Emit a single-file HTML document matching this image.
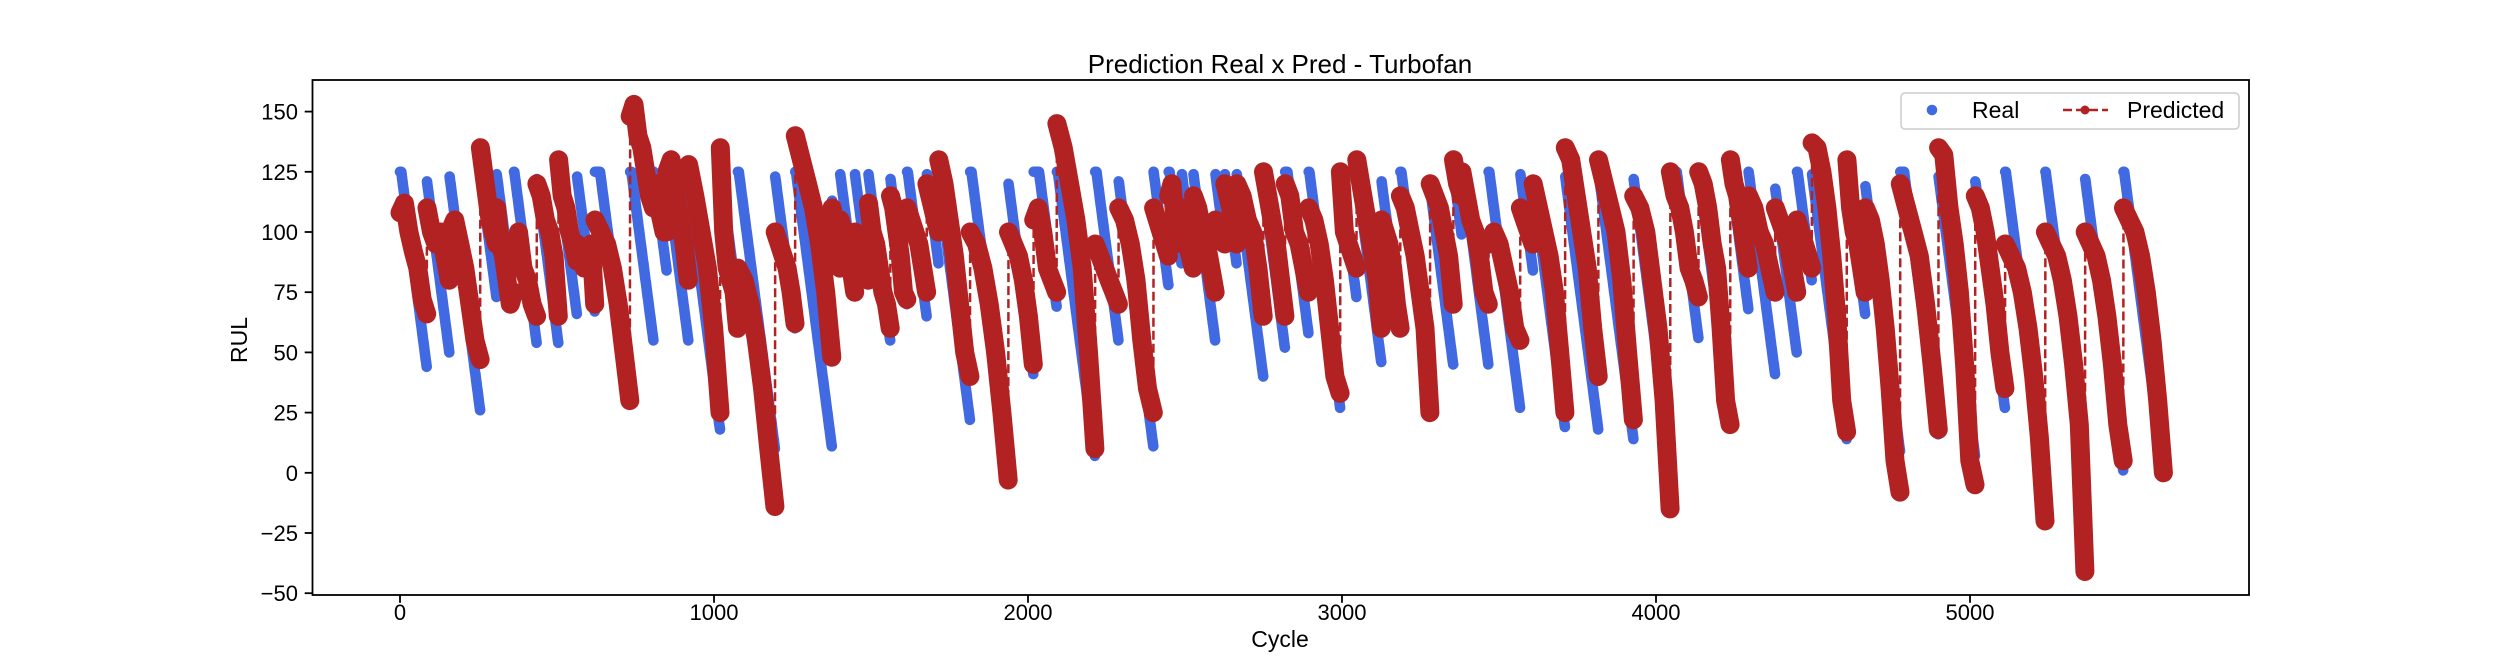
<!DOCTYPE html>
<html><head><meta charset="utf-8"><style>
html,body{margin:0;padding:0;background:#fff;}
svg{display:block;font-family:"Liberation Sans","DejaVu Sans",sans-serif;}
</style></head><body>
<svg id="chart" width="2500" height="670" viewBox="0 0 2500 670" xmlns="http://www.w3.org/2000/svg">
<rect x="0" y="0" width="2500" height="670" fill="#fff"/>
<text x="1280" y="73" text-anchor="middle" font-size="26" fill="#000">Prediction Real x Pred - Turbofan</text>
<g id="plot"></g>
<rect x="312.5" y="80" width="1936.5" height="515" fill="none" stroke="#000" stroke-width="1.8"/>
<g id="ticks"></g>
<text x="1280" y="647" text-anchor="middle" font-size="23">Cycle</text>
<text x="0" y="0" transform="translate(247,340) rotate(-90)" text-anchor="middle" font-size="23">RUL</text>
<g>
<rect x="1901" y="93" width="338" height="36" rx="4" fill="#fff" fill-opacity="0.8" stroke="#ccc" stroke-width="1.5"/>
<circle cx="1932" cy="110" r="5.3" fill="#4169e1"/>
<text x="1972" y="118" font-size="23">Real</text>
<line x1="2063" y1="110" x2="2108" y2="110" stroke="#b22222" stroke-width="2.5" stroke-dasharray="9,4"/>
<circle cx="2085" cy="110" r="4.5" fill="#b22222"/>
<text x="2127" y="118" font-size="23">Predicted</text>
</g>
</svg>
<script>
const xTicks = [0, 1000, 2000, 3000, 4000, 5000];
const yTicks = [-50, -25, 0, 25, 50, 75, 100, 125, 150];
const engineEnd = [85,157,255,307,362,435,504,563,620,732,807,849,918,1019,1075,1194,1258,1375,1401,1448,1491,1561,1614,1677,1715,1815,1937,2017,2091,2213,2288,2399,2447,2489,2526,2596,2626,2664,2749,2818,2893,2994,3046,3125,3185,3280,3354,3381,3466,3567,3608,3710,3816,3928,4045,4135,4236,4294,4379,4448,4496,4607,4666,4777,4899,5016,5111,5239,5366,5488,5616];
const engineEndRul = [44,50,26,73,70,54,54,66,67,30,55,84,55,18,70,10,60,11,88,78,82,55,70,65,87,22,8,41,69,7,55,11,78,87,88,55,95,87,40,52,58,27,73,46,62,34,45,99,45,27,84,19,18,14,6,56,25,68,41,50,80,14,66,9,16,7,27,0,0,1,0];
const predicted = [
[108,112,100,92,85,72,66],[110,100,95,100,90,80],[100,105,95,85,70,55,47],[135,125,115,105,100,95],
[110,95,90,80,70,75],[90,100,85,80,70,65],[120,115,105,100,90,65],[130,115,110,100,95,88],
[95,90,85,90,95,70],[105,100,95,85,70,50,30],[148,153,140,135,125,115,110],[115,120,110,105,100,100],
[125,130,115,105,95,80],[128,115,100,85,60,25],[135,100,85,80,75,60],[85,80,70,55,35,10,-14],
[100,95,90,85,75,62],[140,130,120,110,95,75,48],[110,105,95,90,85],[105,100,95,85,75],
[100,95,90,85,80],[112,100,95,85,75,70,60],[115,110,100,90,75,72],[110,105,100,95,85,75],
[120,115,110,105,100],[130,120,105,90,70,50,40],[100,95,85,70,50,25,-3],[100,95,90,80,65,45],
[105,110,100,85,80,75],[145,135,120,105,85,50,10],[95,90,85,80,75,70],[110,105,95,80,55,35,25],
[110,105,100,95,90],[115,120,105,100,95],[110,100,95,90,85],[115,110,100,95,85,75],
[105,100,100,95],[120,115,110,100,95],[120,115,105,100,85,65],[125,115,105,95,80,65],
[120,115,100,95,85,75],[110,105,95,80,60,40,33],[125,100,95,90,85],[130,120,110,100,90,80,60],
[105,100,95,85,70,60],[115,110,100,90,75,60,25],[120,115,110,100,90,70],[130,120,115],
[125,115,105,100,90,75,70],[95,100,95,85,75,60,55],[110,105,100,95],[120,110,100,90,75,50,25],
[135,130,115,100,85,60,40],[130,120,110,100,80,50,22],[115,110,100,80,60,30,-15],[125,115,110,100,85,80,73],
[125,120,110,95,85,60,30,20],[130,120,115,105,95,85],[115,110,100,95,85,75],[110,105,100,95,85,75],
[105,100,95,90,85],[137,135,125,110,90,65,30,17],[130,110,100,95,85,75],[110,105,95,80,60,35,5,-8],
[120,110,100,90,70,45,18],[135,132,110,95,75,45,5,-5],[115,110,100,85,70,50,35],[95,90,85,75,60,40,15,-20],
[100,95,90,80,65,45,20,-41],[100,95,90,80,65,45,20,5],[110,105,100,90,75,55,30,0]
];
const NS = "http://www.w3.org/2000/svg";
const X0 = 400, XK = 0.314, Y150 = 111.6, YK = 2.408;
function xS(c){ return X0 + c*XK; }
function yS(v){ return Y150 + (150 - v)*YK; }
const plot = document.getElementById('plot');
const ticks = document.getElementById('ticks');
function mk(tag, attrs, parent){ const e = document.createElementNS(NS, tag); for (const k in attrs) e.setAttribute(k, attrs[k]); parent.appendChild(e); return e; }

const realG = mk('g', {}, plot);


let start = 0;
for (let i = 0; i < engineEnd.length; i++) {
  const end = engineEnd[i];
  let pts = [];
  for (let c = start; c <= end; c++) {
    const v = Math.min(125, engineEndRul[i] + (end - c));
    pts.push(xS(c).toFixed(1) + ',' + yS(v).toFixed(1));
  }
  const pl = mk('polyline', {points: pts.join(' '), fill: 'none', stroke: '#4169e1', 'stroke-width': 10.6, 'stroke-linecap': 'round', 'stroke-linejoin': 'round'}, realG);
  
  
  start = end + 1;
}

const predG = mk('g', {}, plot);


let allPts = [];
let engPts = [];
start = 0;
for (let i = 0; i < engineEnd.length; i++) {
  const end = engineEnd[i], vals = predicted[i], k = vals.length;
  let pts = [];
  for (let j = 0; j < k; j++) {
    const c = start + (end - start) * j / (k - 1);
    pts.push([xS(c), yS(vals[j])]);
  }
  engPts.push(pts);
  allPts = allPts.concat(pts);
  start = end + 1;
}
const dash = mk('polyline', {points: allPts.map(p => p[0].toFixed(1)+','+p[1].toFixed(1)).join(' '), fill: 'none', stroke: '#b22222', 'stroke-width': 2.5, 'stroke-dasharray': '9,4'}, predG);


engPts.forEach((pts, i) => {
  const pl = mk('polyline', {points: pts.map(p => p[0].toFixed(1)+','+p[1].toFixed(1)).join(' '), fill: 'none', stroke: '#b22222', 'stroke-width': 19, 'stroke-linecap': 'round', 'stroke-linejoin': 'round'}, predG);
  
  
  pts.forEach(p => {
    const c = mk('circle', {cx: p[0].toFixed(1), cy: p[1].toFixed(1), r: 6, fill: '#b22222'}, predG);
    
    
  });
});

xTicks.forEach(t => {
  const x = xS(t);
  const l = mk('line', {x1: x, y1: 595, x2: x, y2: 602.8, stroke: '#000', 'stroke-width': 1.8}, ticks);
  
  
  const tx = mk('text', {x: x, y: 620, 'text-anchor': 'middle', 'font-size': 22}, ticks);
  tx.textContent = String(t);
  
  
});
yTicks.forEach(t => {
  const y = yS(t);
  const l = mk('line', {x1: 304.7, y1: y, x2: 312.5, y2: y, stroke: '#000', 'stroke-width': 1.8}, ticks);
  
  
  const tx = mk('text', {x: 298, y: y + 8, 'text-anchor': 'end', 'font-size': 22}, ticks);
  tx.textContent = t < 0 ? '\u2212' + Math.abs(t) : String(t);
  
  
});
</script>
</body></html>
